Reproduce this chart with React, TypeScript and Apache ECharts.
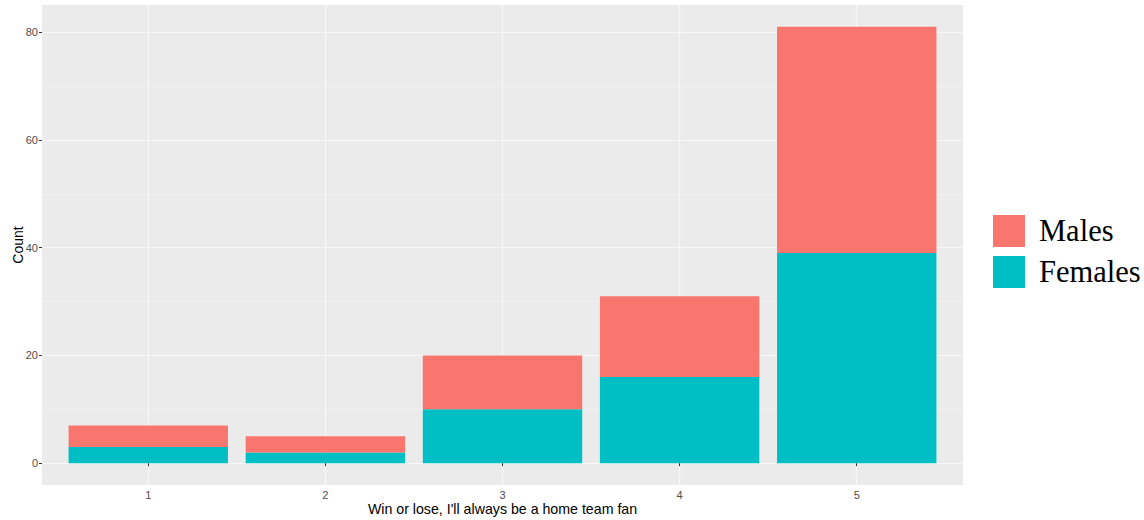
import React, { useEffect, useRef } from "react";
import * as echarts from "echarts";

const categories = ["1", "2", "3", "4", "5"];
const categoryPositions = [1, 2, 3, 4, 5];
const females = [3, 2, 10, 16, 39];
const males = [4, 3, 10, 15, 42];
const yMajorTicks = [0, 20, 40, 60, 80];
const yMinorTicks = [10, 30, 50, 70];
const xTitle = "Win or lose, I'll always be a home team fan";
const yTitle = "Count";

export default function App() {
  const ref = useRef<HTMLDivElement>(null);
  useEffect(() => {
    const chart = echarts.init(ref.current!, null, { renderer: "svg" });
    const yMin = -4.05;
    const yMax = 85.05;
    const panelLeft = 42;
    const panelTop = 5;
    const panelWidth = 921;
    const panelHeight = 480;
    const xMin = 0.4;
    const xMax = 5.6;
    const unit = panelWidth / (xMax - xMin);
    const axisFont = { color: "#4D4D4D", fontSize: 11, fontFamily: "Liberation Sans" };
    chart.setOption({
      animation: false,
      backgroundColor: "#FFFFFF",
      grid: [
        {
          left: panelLeft,
          top: panelTop,
          width: panelWidth,
          height: panelHeight,
          show: true,
          backgroundColor: "#EBEBEB",
          borderWidth: 0,
          outerBoundsMode: "none",
          containLabel: false,
        },
        {
          left: panelLeft + (0.5 - xMin) * unit,
          top: panelTop,
          width: categories.length * unit,
          height: panelHeight,
          show: false,
          outerBoundsMode: "none",
          containLabel: false,
        },
      ],
      graphic: [
        {
          type: "text",
          x: 18,
          y: panelTop + panelHeight / 2,
          rotation: Math.PI / 2,
          style: {
            text: yTitle,
            align: "center",
            verticalAlign: "middle",
            fill: "#000000",
            fontSize: 14,
            fontFamily: "Liberation Sans",
          },
        },
        {
          type: "text",
          x: panelLeft + panelWidth / 2,
          y: 509,
          style: {
            text: xTitle,
            align: "center",
            verticalAlign: "middle",
            fill: "#000000",
            fontSize: 14.2,
            fontFamily: "Liberation Sans",
          },
        },
      ],
      legend: {
        orient: "vertical",
        left: 993,
        top: 215,
        padding: 0,
        itemWidth: 32,
        itemHeight: 32,
        itemGap: 9,
        icon: "rect",
        data: ["Males", "Females"],
        textStyle: {
          fontFamily: "Liberation Serif",
          fontSize: 30.5,
          color: "#000000",
          padding: [0, 0, 0, 9],
        },
      },
      xAxis: [
        {
          type: "value",
          gridIndex: 0,
          min: xMin,
          max: xMax,
          axisLine: { show: false },
          axisTick: { show: true, length: 3, lineStyle: { color: "#333333" }, customValues: categoryPositions },
          axisLabel: { ...axisFont, margin: 4, customValues: categoryPositions },
          splitLine: { show: true, lineStyle: { color: "#F7F7F7", width: 1.2 } },
        },
        {
          type: "category",
          gridIndex: 1,
          data: categories,
          show: false,
        },
      ],
      yAxis: [
        {
          type: "value",
          gridIndex: 0,
          min: yMin,
          max: yMax,
          axisLine: { show: false },
          axisTick: { show: true, length: 3, lineStyle: { color: "#333333" }, customValues: yMajorTicks },
          axisLabel: { ...axisFont, margin: 4, customValues: yMajorTicks },
          splitLine: { show: true, lineStyle: { color: "#F7F7F7", width: 1.2 } },
        },
        {
          type: "value",
          gridIndex: 0,
          position: "left",
          min: yMin,
          max: yMax,
          axisLine: { show: false },
          axisTick: { show: false, customValues: yMinorTicks },
          axisLabel: { show: false, customValues: yMinorTicks },
          splitLine: { show: true, lineStyle: { color: "#F4F4F4", width: 0.7 } },
        },
        {
          type: "value",
          gridIndex: 1,
          min: yMin,
          max: yMax,
          show: false,
          splitLine: { show: false },
        },
      ],
      series: [
        {
          name: "Females",
          type: "bar",
          xAxisIndex: 1,
          yAxisIndex: 2,
          stack: "total",
          barWidth: "90%",
          itemStyle: { color: "#00BFC4" },
          data: females,
        },
        {
          name: "Males",
          type: "bar",
          xAxisIndex: 1,
          yAxisIndex: 2,
          stack: "total",
          barWidth: "90%",
          itemStyle: { color: "#F8766D" },
          data: males,
        },
      ],
    });
    return () => chart.dispose();
  }, []);
  return (
    <div
      ref={ref}
      style={{ position: "absolute", left: 0, top: 0, width: 1144, height: 520 }}
    />
  );
}
